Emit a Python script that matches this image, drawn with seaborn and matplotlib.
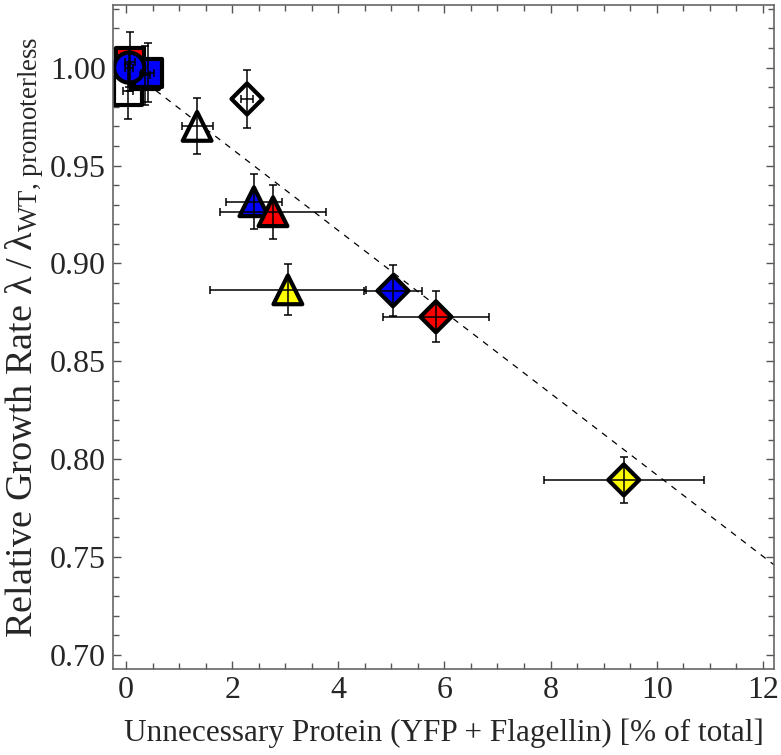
import matplotlib
matplotlib.use("Agg")
import matplotlib.pyplot as plt
from matplotlib.ticker import MultipleLocator, FormatStrFormatter
import numpy as np
import pandas as pd
import seaborn as sns

# Measurements: protein burden vs. relative growth rate
protein_pct = [0.04, 0.36, 0.075, 0.41, 0.06, 1.34, 2.28, 2.41, 2.77, 3.05, 5.03, 5.84, 9.38]
growth_rel = [0.988, 0.996, 1.003, 0.9974, 1.000, 0.970, 0.984, 0.9315, 0.9264, 0.8865, 0.886, 0.8727, 0.7894]
protein_err = [0.10, 0.10, 0.10, 0.12, 0.08, 0.29, 0.12, 0.53, 1.00, 1.47, 0.54, 1.00, 1.51]
growth_err = [0.014, 0.015, 0.015, 0.015, 0.010, 0.0143, 0.0146, 0.014, 0.0138, 0.013, 0.013, 0.013, 0.0118]
strain_color = ["none", "yellow", "red", "blue", "blue", "none", "none",
                "blue", "red", "yellow", "blue", "red", "yellow"]
construct = ["square", "square", "square", "square", "circle", "triangle", "diamond",
             "triangle", "triangle", "triangle", "diamond", "diamond", "diamond"]

# Linear cost model
fit_slope = -0.0208
fit_intercept = 1.0

df = pd.DataFrame({
    "protein": protein_pct,
    "growth": growth_rel,
    "color": strain_color,
    "shape": construct,
})

sns.set_style("ticks")
plt.rcParams["font.family"] = ["Liberation Serif", "DejaVu Serif"]
plt.rcParams["mathtext.fontset"] = "custom"
plt.rcParams["mathtext.rm"] = "Liberation Serif"
plt.rcParams["mathtext.it"] = "Liberation Serif:italic"
plt.rcParams["mathtext.default"] = "rm"

fig = plt.figure(figsize=(7.81, 7.55), dpi=100)
ax = fig.add_axes([0.1447, 0.1139, 0.8463, 0.8795])

xs = np.array([0.0, 12.5])
ax.plot(xs, fit_intercept + fit_slope * xs, color="black", lw=0.9,
        dashes=(5, 5), zorder=0.5)

palette = {"none": "white", "yellow": "#ffff00", "red": "#ff0000", "blue": "#0000ff"}
markers = {"square": "s", "circle": "o", "triangle": "^", "diamond": "D"}
sizes = {"square": 400, "circle": 470, "triangle": 430, "diamond": 250}

sns.scatterplot(data=df, x="protein", y="growth", hue="color", style="shape",
                size="shape", palette=palette, markers=markers, sizes=sizes,
                edgecolor="black", linewidth=3.0, legend=False, ax=ax, zorder=2)

ax.errorbar(protein_pct, growth_rel, xerr=protein_err, yerr=growth_err, fmt="none",
            ecolor="black", elinewidth=1.1, capsize=3, capthick=1.1, zorder=3)

ax.set_xlim(-0.245, 12.21)
ax.set_ylim(0.6928, 1.032)
ax.xaxis.set_major_locator(MultipleLocator(2))
ax.xaxis.set_minor_locator(MultipleLocator(0.5))
ax.yaxis.set_major_locator(MultipleLocator(0.05))
ax.yaxis.set_minor_locator(MultipleLocator(0.01))
ax.yaxis.set_major_formatter(FormatStrFormatter("%.2f"))

ax.tick_params(which="both", direction="in", top=True, right=True,
               color="#555555", labelsize=23, pad=5)
ax.tick_params(which="major", length=6, width=1)
ax.tick_params(which="minor", length=4, width=1)
for sp in ax.spines.values():
    sp.set_color("#666666")
    sp.set_linewidth(1.2)

ax.set_xlabel("Unnecessary Protein (YFP + Flagellin) [% of total]", fontsize=22.5, labelpad=10)
ax.set_ylabel(r"Relative Growth Rate $\lambda\;/\;\lambda_{\mathrm{WT,\,promoterless}}$",
              fontsize=27.5, labelpad=3)

fig.savefig("out.png", dpi=100)
